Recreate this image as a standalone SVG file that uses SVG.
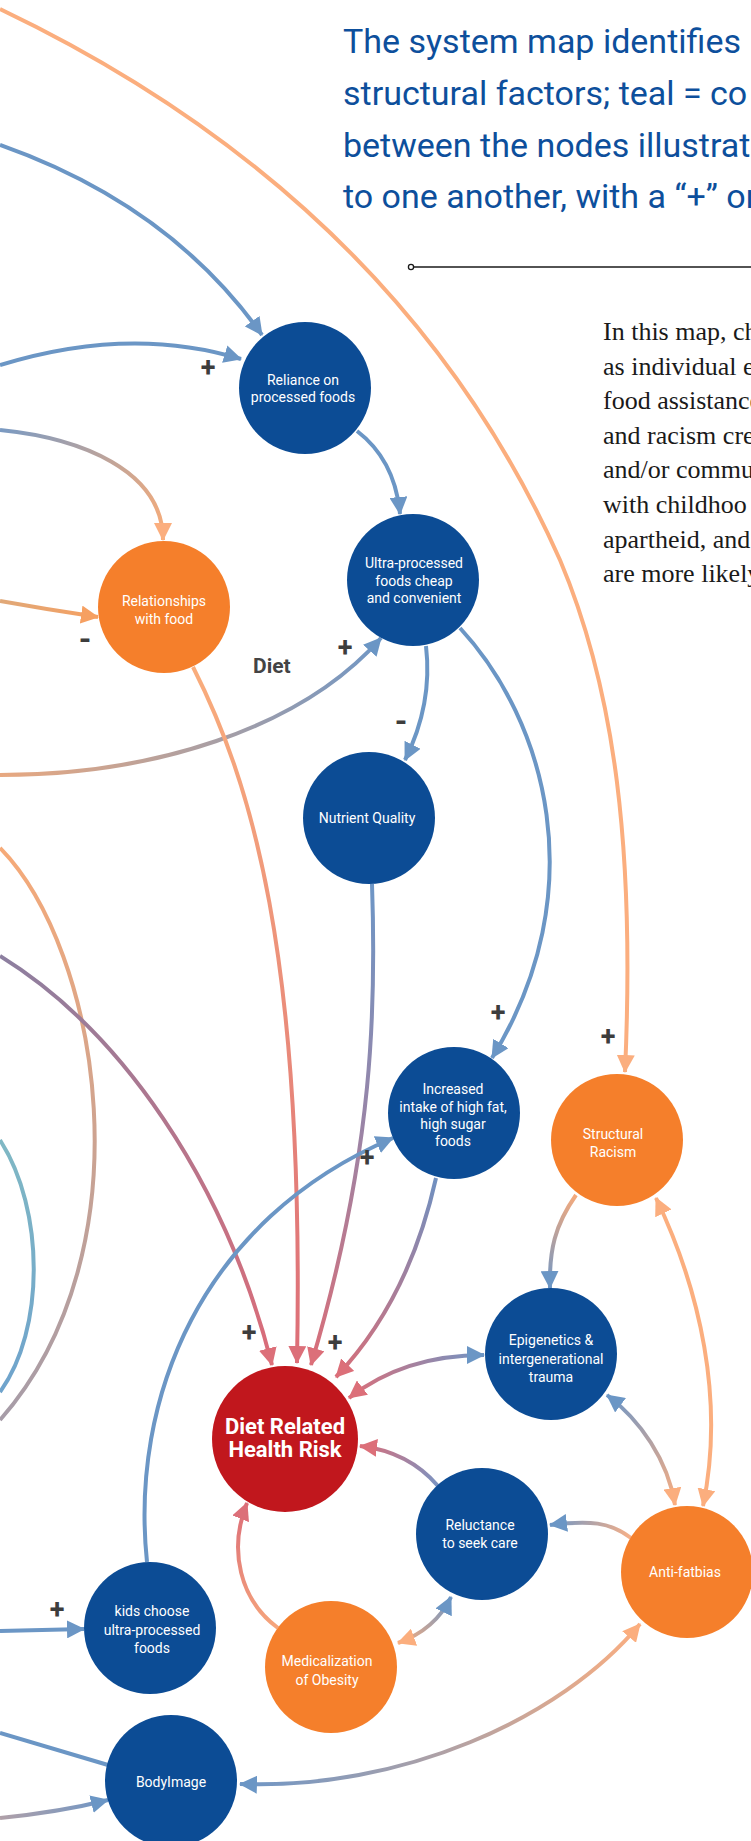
<svg xmlns="http://www.w3.org/2000/svg" width="751" height="1841" viewBox="0 0 751 1841">
<style>
.c{fill:none;stroke-width:4}
.nb{fill:#0c4c95}
.no{fill:#f57f2b}
.nr{fill:#c1171d}
.t{font-family:Roboto,"Noto Sans",sans-serif;font-size:14px;fill:#ffffff;text-anchor:middle}
.tb{font-family:Roboto,"Noto Sans",sans-serif;font-size:22px;font-weight:bold;fill:#ffffff;text-anchor:middle}
.s{font-family:Roboto,"Noto Sans",sans-serif;font-size:27px;font-weight:bold;fill:#3d3d3d;text-anchor:middle}
.m{font-family:Roboto,"Noto Sans",sans-serif;font-size:32px;font-weight:bold;fill:#3d3d3d;text-anchor:middle}
.h{font-family:Roboto,"Noto Sans",sans-serif;font-size:34px;fill:#0d4f9c}
.p{font-family:"Liberation Serif",serif;font-size:26px;fill:#1a1a1a}
</style>
<defs>
<marker id="mB" markerUnits="userSpaceOnUse" markerWidth="18" markerHeight="18" viewBox="0 0 18 18" refX="17" refY="9" orient="auto-start-reverse"><path d="M0,0 L18,9 L0,18 z" fill="#6b96c5"/></marker>
<marker id="mO" markerUnits="userSpaceOnUse" markerWidth="18" markerHeight="18" viewBox="0 0 18 18" refX="17" refY="9" orient="auto-start-reverse"><path d="M0,0 L18,9 L0,18 z" fill="#fbae7e"/></marker>
<marker id="mO2" markerUnits="userSpaceOnUse" markerWidth="18" markerHeight="18" viewBox="0 0 18 18" refX="17" refY="9" orient="auto-start-reverse"><path d="M0,0 L18,9 L0,18 z" fill="#f6a062"/></marker>
<marker id="mR" markerUnits="userSpaceOnUse" markerWidth="18" markerHeight="18" viewBox="0 0 18 18" refX="17" refY="9" orient="auto-start-reverse"><path d="M0,0 L18,9 L0,18 z" fill="#dc6f79"/></marker>
<linearGradient id="g4" gradientUnits="userSpaceOnUse" x1="0" y1="430" x2="163" y2="540"><stop offset="0" stop-color="#7a9ac2"/><stop offset="1" stop-color="#f9ac78"/></linearGradient>
<linearGradient id="g5" gradientUnits="userSpaceOnUse" x1="0" y1="601" x2="98" y2="617"><stop offset="0" stop-color="#e0a878"/><stop offset="1" stop-color="#f6a062"/></linearGradient>
<linearGradient id="g6" gradientUnits="userSpaceOnUse" x1="0" y1="775" x2="381" y2="638"><stop offset="0" stop-color="#e8a880"/><stop offset="1" stop-color="#6f96c5"/></linearGradient>
<linearGradient id="g10" gradientUnits="userSpaceOnUse" x1="193" y1="667" x2="297" y2="1363"><stop offset="0" stop-color="#f9ad7c"/><stop offset="1" stop-color="#dc6e78"/></linearGradient>
<linearGradient id="g11" gradientUnits="userSpaceOnUse" x1="0" y1="848" x2="0" y2="1420"><stop offset="0" stop-color="#f6aa78"/><stop offset="1" stop-color="#a69ca8"/></linearGradient>
<linearGradient id="g12" gradientUnits="userSpaceOnUse" x1="0" y1="956" x2="272" y2="1365"><stop offset="0" stop-color="#8c7fa0"/><stop offset="1" stop-color="#dc6c78"/></linearGradient>
<linearGradient id="g13" gradientUnits="userSpaceOnUse" x1="0" y1="1140" x2="0" y2="1392"><stop offset="0" stop-color="#80b8c4"/><stop offset="1" stop-color="#6fa3cc"/></linearGradient>
<linearGradient id="g14" gradientUnits="userSpaceOnUse" x1="372" y1="884" x2="311" y2="1365"><stop offset="0" stop-color="#6d96c6"/><stop offset="0.5" stop-color="#9a84a6"/><stop offset="1" stop-color="#da6e78"/></linearGradient>
<linearGradient id="g15" gradientUnits="userSpaceOnUse" x1="436" y1="1178" x2="336" y2="1377"><stop offset="0" stop-color="#7090c0"/><stop offset="1" stop-color="#d86e78"/></linearGradient>
<linearGradient id="g17" gradientUnits="userSpaceOnUse" x1="576" y1="1195" x2="550" y2="1288"><stop offset="0" stop-color="#f5aa7c"/><stop offset="1" stop-color="#6e96c6"/></linearGradient>
<linearGradient id="g19" gradientUnits="userSpaceOnUse" x1="607" y1="1395" x2="675" y2="1505"><stop offset="0" stop-color="#6e96c6"/><stop offset="1" stop-color="#fbae80"/></linearGradient>
<linearGradient id="g20" gradientUnits="userSpaceOnUse" x1="631" y1="1538" x2="550" y2="1525"><stop offset="0" stop-color="#f7b088"/><stop offset="1" stop-color="#6e96c6"/></linearGradient>
<linearGradient id="g21" gradientUnits="userSpaceOnUse" x1="438" y1="1486" x2="360" y2="1446"><stop offset="0" stop-color="#7a94c2"/><stop offset="1" stop-color="#d86e7a"/></linearGradient>
<linearGradient id="g22" gradientUnits="userSpaceOnUse" x1="349" y1="1398" x2="484" y2="1355"><stop offset="0" stop-color="#dc6e78"/><stop offset="1" stop-color="#7094c4"/></linearGradient>
<linearGradient id="g23" gradientUnits="userSpaceOnUse" x1="398" y1="1643" x2="451" y2="1597"><stop offset="0" stop-color="#f9ad7c"/><stop offset="1" stop-color="#6e96c6"/></linearGradient>
<linearGradient id="g24" gradientUnits="userSpaceOnUse" x1="278" y1="1628" x2="247" y2="1503"><stop offset="0" stop-color="#f6a67c"/><stop offset="1" stop-color="#dc6e78"/></linearGradient>
<linearGradient id="gBL" gradientUnits="userSpaceOnUse" x1="0" y1="1818" x2="108" y2="1800"><stop offset="0" stop-color="#b0a0a8"/><stop offset="1" stop-color="#6e96c6"/></linearGradient>
<linearGradient id="gAB" gradientUnits="userSpaceOnUse" x1="240" y1="1784" x2="640" y2="1624"><stop offset="0" stop-color="#6e96c6"/><stop offset="1" stop-color="#fbae80"/></linearGradient>
</defs>
<rect width="751" height="1841" fill="#ffffff"/>

<g id="header">
<text class="h" x="343" y="53">The system map identifies</text>
<text class="h" x="343" y="105">structural factors; teal = co</text>
<text class="h" x="343" y="157">between the nodes illustrat</text>
<text class="h" x="343" y="208">to one another, with a “+” or</text>
<line x1="412" y1="267" x2="751" y2="267" stroke="#1a1a1a" stroke-width="1.5"/>
<circle cx="411" cy="267" r="2.6" fill="#ffffff" stroke="#1a1a1a" stroke-width="1.3"/>
<text class="p" x="603" y="340">In this map, ch</text>
<text class="p" x="603" y="374.6">as individual e</text>
<text class="p" x="603" y="409.2">food assistance</text>
<text class="p" x="603" y="443.8">and racism cre</text>
<text class="p" x="603" y="478.4">and/or commu</text>
<text class="p" x="603" y="513">with childhoo</text>
<text class="p" x="603" y="547.6">apartheid, and</text>
<text class="p" x="603" y="582.2">are more likely</text>
</g>

<g id="connectors">
<path class="c" stroke="#fbae7e" d="M0,9 Q400,200 560,560 C615,690 635,850 625,1072" marker-end="url(#mO)"/>
<path class="c" stroke="#6b96c5" d="M0,145 Q170,205 262,335" marker-end="url(#mB)"/>
<path class="c" stroke="#6b96c5" d="M0,365 Q130,325 241,359" marker-end="url(#mB)"/>
<path class="c" stroke="url(#g4)" stroke-width="5.5" d="M0,430 C80,438 163,470 163,540" marker-end="url(#mO)"/>
<path class="c" stroke="url(#g5)" stroke-width="5.5" d="M0,601 Q50,610 98,617" marker-end="url(#mO2)"/>
<path class="c" stroke="url(#g6)" stroke-width="4.5" d="M0,775 C150,775 300,730 381,638" marker-end="url(#mB)"/>
<path class="c" stroke="#6b96c5" d="M357,431 Q395,460 400,514" marker-end="url(#mB)"/>
<path class="c" stroke="#6b96c5" d="M426,646 C430,680 425,720 405,760" marker-end="url(#mB)"/>
<path class="c" stroke="#6b96c5" d="M460,628 C545,720 595,890 492,1058" marker-end="url(#mB)"/>
<path class="c" stroke="url(#g10)" stroke-width="3.5" d="M193,667 C250,780 305,950 297,1363" marker-end="url(#mR)"/>
<path class="c" stroke="url(#g11)" stroke-width="3.5" d="M0,848 C100,950 150,1250 0,1420"/>
<path class="c" stroke="url(#g12)" d="M0,956 C120,1030 225,1180 272,1365" marker-end="url(#mR)"/>
<path class="c" stroke="url(#g13)" d="M0,1140 C45,1210 45,1330 0,1392"/>
<path class="c" stroke="url(#g14)" stroke-width="3.5" d="M372,884 C376,1000 375,1150 311,1365" marker-end="url(#mR)"/>
<path class="c" stroke="url(#g15)" d="M436,1178 C420,1250 390,1320 336,1377" marker-end="url(#mR)"/>
<path class="c" stroke="#6b96c5" d="M147,1562 C130,1400 200,1220 393,1138" marker-end="url(#mB)"/>
<path class="c" stroke="url(#g17)" d="M576,1195 C555,1225 549,1250 550,1288" marker-end="url(#mB)"/>
<path class="c" stroke="#fbae7e" d="M656,1198 C700,1290 725,1400 703,1506" marker-start="url(#mO)" marker-end="url(#mO)"/>
<path class="c" stroke="url(#g19)" d="M607,1395 C640,1420 668,1460 675,1505" marker-start="url(#mB)" marker-end="url(#mO)"/>
<path class="c" stroke="url(#g20)" d="M631,1538 C610,1522 590,1520 550,1525" marker-end="url(#mB)"/>
<path class="c" stroke="url(#g21)" d="M438,1486 C420,1465 395,1450 360,1446" marker-end="url(#mR)"/>
<path class="c" stroke="url(#g22)" d="M349,1398 C385,1370 430,1355 484,1355" marker-start="url(#mR)" marker-end="url(#mB)"/>
<path class="c" stroke="url(#g23)" d="M398,1643 C420,1635 440,1620 451,1597" marker-start="url(#mO)" marker-end="url(#mB)"/>
<path class="c" stroke="url(#g24)" d="M278,1628 C240,1600 228,1550 247,1503" marker-end="url(#mR)"/>
<path class="c" stroke="#6b96c5" stroke-width="5" d="M0,1631 Q40,1630 84,1629" marker-end="url(#mB)"/>
<path class="c" stroke="#6b96c5" d="M0,1733 L108,1765"/>
<path class="c" stroke="url(#gBL)" stroke-width="5" d="M0,1818 Q60,1812 108,1800" marker-end="url(#mB)"/>
<path class="c" stroke="url(#gAB)" d="M240,1784 C400,1790 560,1720 640,1624" marker-start="url(#mB)" marker-end="url(#mO)"/>
</g>

<g id="signs">
<text class="s" x="208" y="377">+</text>
<text class="m" x="85" y="650">-</text>
<text class="s" x="345" y="657">+</text>
<text class="m" x="401" y="732">-</text>
<text class="s" x="498" y="1022">+</text>
<text class="s" x="608" y="1046">+</text>
<text class="s" x="367" y="1167">+</text>
<text class="s" x="249" y="1342">+</text>
<text class="s" x="335" y="1352">+</text>
<text class="s" x="57" y="1619">+</text>
<text x="253" y="673" font-family="Roboto, 'Noto Sans', sans-serif" font-size="21" font-weight="bold" fill="#444444">Diet</text>
</g>

<g id="n-reliance"><circle class="nb" cx="305" cy="388" r="66"/><text class="t" x="303" y="385">Reliance on</text><text class="t" x="303" y="402">processed foods</text></g>
<g id="n-ultra"><circle class="nb" cx="413" cy="580" r="66"/><text class="t" x="414" y="568">Ultra-processed</text><text class="t" x="414" y="586">foods cheap</text><text class="t" x="414" y="603">and convenient</text></g>
<g id="n-relationships"><circle class="no" cx="164" cy="607" r="66"/><text class="t" x="164" y="606">Relationships</text><text class="t" x="164" y="624">with food</text></g>
<g id="n-nutrient"><circle class="nb" cx="369" cy="818" r="66"/><text class="t" x="367" y="823">Nutrient Quality</text></g>
<g id="n-increased"><circle class="nb" cx="454" cy="1113" r="66"/><text class="t" x="453" y="1094">Increased</text><text class="t" x="453" y="1112">intake of high fat,</text><text class="t" x="453" y="1129">high sugar</text><text class="t" x="453" y="1146">foods</text></g>
<g id="n-racism"><circle class="no" cx="617" cy="1140" r="66"/><text class="t" x="613" y="1139">Structural</text><text class="t" x="613" y="1157">Racism</text></g>
<g id="n-epigenetics"><circle class="nb" cx="551" cy="1354" r="66"/><text class="t" x="551" y="1345">Epigenetics &amp;</text><text class="t" x="551" y="1364">intergenerational</text><text class="t" x="551" y="1382">trauma</text></g>
<g id="n-risk"><circle class="nr" cx="285" cy="1439" r="73"/><text class="tb" x="285" y="1434">Diet Related</text><text class="tb" x="285" y="1457">Health Risk</text></g>
<g id="n-reluctance"><circle class="nb" cx="482" cy="1534" r="66"/><text class="t" x="480" y="1530">Reluctance</text><text class="t" x="480" y="1548">to seek care</text></g>
<g id="n-antifat"><circle class="no" cx="687" cy="1572" r="66"/><text class="t" x="685" y="1577">Anti-fatbias</text></g>
<g id="n-kids"><circle class="nb" cx="150" cy="1628" r="66"/><text class="t" x="152" y="1616">kids choose</text><text class="t" x="152" y="1635">ultra-processed</text><text class="t" x="152" y="1653">foods</text></g>
<g id="n-medicalization"><circle class="no" cx="331" cy="1667" r="66"/><text class="t" x="327" y="1666">Medicalization</text><text class="t" x="327" y="1685">of Obesity</text></g>
<g id="n-bodyimage"><circle class="nb" cx="171" cy="1781" r="66"/><text class="t" x="171" y="1787">BodyImage</text></g>
</svg>
